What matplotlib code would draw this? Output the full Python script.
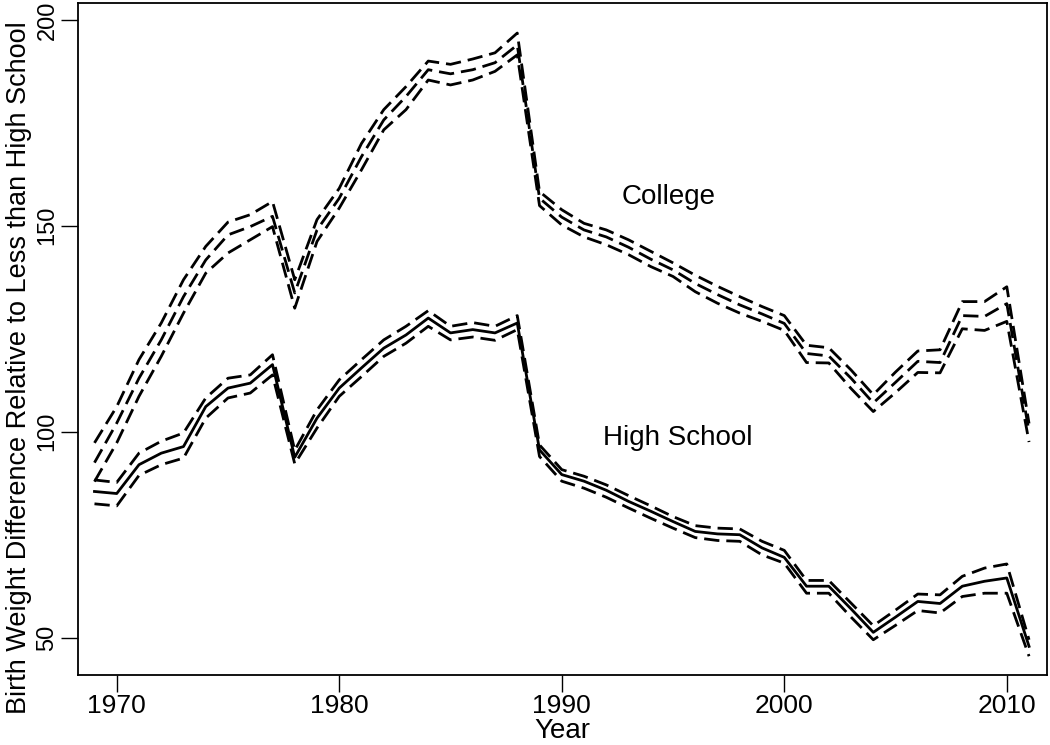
import numpy as np
import matplotlib
matplotlib.use("Agg")
import matplotlib.pyplot as plt

plt.rcParams['font.family'] = ['Liberation Sans', 'DejaVu Sans']
plt.rcParams['lines.scale_dashes'] = False

years = list(range(1969, 2012))

# college: point estimate and upper / lower bounds
col_mid = [92.5, 102.1, 113.0, 122.3, 132.8, 141.7, 147.8, 149.8, 152.3, 133.7,
           149.0, 156.7, 166.8, 175.7, 181.4, 187.9, 186.9, 187.9, 189.6, 193.9,
           156.7, 152.1, 149.0, 147.3, 144.8, 141.9, 139.3, 136.0, 133.3, 130.8,
           128.6, 126.3, 119.0, 118.4, 113.0, 107.0, 112.0, 117.1, 116.8, 128.2,
           128.0, 131.1, 100.0]
col_hi = [97.3, 106.1, 117.5, 126.4, 136.9, 145.0, 150.9, 152.7, 155.9, 136.9,
          151.5, 159.1, 170.0, 178.2, 183.8, 190.0, 189.2, 190.5, 192.0, 196.8,
          158.3, 153.9, 150.6, 149.0, 146.6, 143.8, 141.0, 138.0, 135.3, 132.8,
          130.4, 128.2, 121.0, 120.4, 115.0, 109.0, 114.5, 119.6, 119.9, 131.6,
          131.6, 135.2, 102.0]
col_lo = [87.9, 97.3, 108.6, 118.3, 128.8, 138.5, 143.4, 146.6, 149.8, 130.0,
          146.2, 154.3, 163.6, 173.3, 178.2, 185.4, 184.2, 185.4, 187.5, 191.5,
          154.9, 150.2, 147.3, 145.4, 143.0, 140.1, 137.7, 134.0, 131.2, 128.8,
          126.8, 124.6, 116.8, 116.7, 110.5, 104.9, 109.5, 114.4, 114.3, 125.0,
          124.6, 126.8, 97.5]

# high school: point estimate and upper / lower bounds
hs_mid = [85.5, 85.0, 92.0, 94.8, 96.4, 106.1, 110.6, 111.8, 116.3, 93.8,
          103.3, 110.6, 115.5, 120.3, 123.5, 127.6, 124.0, 124.8, 124.0, 126.4,
          95.6, 89.6, 88.0, 85.8, 83.1, 80.7, 78.2, 75.8, 75.2, 75.0,
          71.8, 69.5, 62.5, 62.5, 57.0, 51.3, 55.0, 58.8, 58.3, 62.5,
          63.7, 64.5, 47.9]
hs_hi = [88.3, 87.7, 94.8, 97.7, 99.7, 108.2, 113.0, 113.8, 118.7, 95.5,
         105.3, 112.6, 117.5, 122.3, 125.6, 129.4, 125.6, 126.5, 125.6, 128.2,
         96.8, 90.8, 89.2, 87.1, 84.5, 82.0, 79.4, 77.2, 76.6, 76.4,
         73.4, 71.2, 63.9, 63.9, 58.4, 52.9, 56.7, 60.6, 60.4, 64.9,
         66.9, 67.9, 49.5]
hs_lo = [82.5, 82.0, 89.4, 92.0, 93.6, 103.3, 108.2, 109.4, 113.8, 92.2,
         100.9, 108.6, 113.4, 118.3, 121.5, 125.6, 122.3, 123.0, 122.2, 124.8,
         94.0, 88.0, 86.3, 84.1, 81.5, 79.0, 76.6, 74.3, 73.6, 73.4,
         70.1, 68.1, 60.8, 60.8, 55.0, 49.5, 53.0, 56.6, 56.0, 60.0,
         60.8, 60.8, 45.5]

fig = plt.figure(figsize=(10.5, 7.45), dpi=100)
ax = fig.add_axes([0.0743, 0.094, 0.9227, 0.902])

dash = (11.0, 5.0)
lw = 2.0
for s in [col_hi, col_mid, col_lo, hs_hi, hs_lo]:
    ax.plot(years, s, color='black', lw=lw, dashes=dash)
ax.plot(years, hs_mid, color='black', lw=lw)

ax.text(1994.8, 157, 'College', fontsize=20, ha='center', va='center')
ax.text(1995.2, 98.5, 'High School', fontsize=20, ha='center', va='center')

ax.set_xlim(1968.26, 2011.8)
ax.set_ylim(40.95, 204.1)
ax.set_xticks([1970, 1980, 1990, 2000, 2010])
ax.set_yticks([50, 100, 150, 200])
ax.set_yticklabels(['50', '100', '150', '200'], rotation=90, va='center')

for lab in ax.get_xticklabels():
    lab.set_fontsize(19)
for lab in ax.get_yticklabels():
    lab.set_fontsize(17)

ax.tick_params(axis='both', direction='out', length=12, width=1.0, pad=2)
for sp in ax.spines.values():
    sp.set_linewidth(1.3)

ax.set_xlabel('Year', fontsize=20, labelpad=0)
ax.set_ylabel('Birth Weight Difference Relative to Less than High School', fontsize=19.5)
ax.yaxis.set_label_coords(-0.048, 0.457)

fig.savefig('out.png', dpi=100)
